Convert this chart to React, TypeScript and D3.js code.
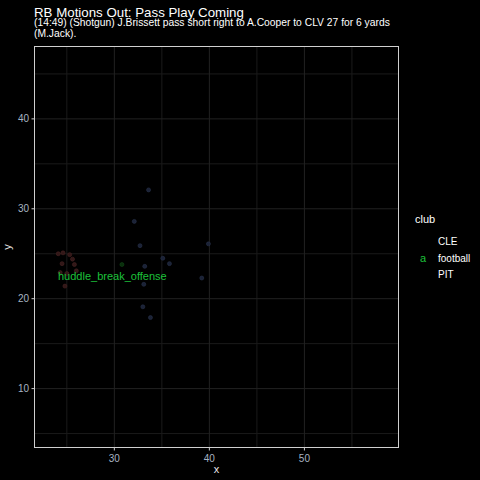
import * as d3 from "d3";

// ── Data ──────────────────────────────────────────────────────
const CLUBS = ["CLE", "football", "PIT"];
const CLE_X = [24.1, 24.6, 25.3, 25.6, 24.5, 25.8, 24.3, 25.0, 26.0, 24.8];
const CLE_Y = [25.0, 25.1, 24.9, 24.4, 23.9, 23.8, 22.9, 22.8, 23.1, 21.4];
const PIT_X = [33.6, 32.1, 32.7, 39.9, 35.1, 35.8, 33.2, 39.2, 33.1, 33.0, 33.8];
const PIT_Y = [32.1, 28.6, 25.9, 26.1, 24.5, 23.9, 23.6, 22.3, 21.6, 19.1, 17.9];
const BALL_X = [30.8];
const BALL_Y = [23.8];
const X_TICKS = [30, 40, 50];
const Y_TICKS = [10, 20, 30, 40];
const X_MINOR = [25, 35, 45, 55];
const Y_MINOR = [5, 15, 25, 35, 45];

const W = 480;
const H = 480;
const M = { left: 34.5, right: 398.5, top: 46.5, bottom: 447.5 };
const FONT = "Liberation Sans, Arial, sans-serif";
const TICK_COL = "#a7b4c2";

const COLORS: Record<string, string> = {
  CLE: "#321818",
  football: "#0a2e0d",
  PIT: "#1b2236",
};
const STROKES: Record<string, string> = {
  CLE: "#4a2424",
  football: "#104a16",
  PIT: "#28324c",
};

export default function App() {
  const x = d3.scaleLinear().domain([21.6, 59.9]).range([M.left, M.right]);
  const y = d3.scaleLinear().domain([3.45, 48.05]).range([M.bottom, M.top]);

  const series = [
    { club: "CLE", xs: CLE_X, ys: CLE_Y },
    { club: "PIT", xs: PIT_X, ys: PIT_Y },
    { club: "football", xs: BALL_X, ys: BALL_Y },
  ];

  return (
    <svg
      width={W}
      height={H}
      style={{ position: "absolute", left: 0, top: 0, background: "#000" }}
      fontFamily={FONT}
    >
      <rect width={W} height={H} fill="#000" />

      {/* grid */}
      {X_MINOR.map((t) => (
        <line key={"xm" + t} x1={x(t)} x2={x(t)} y1={M.top} y2={M.bottom} stroke="#1a1a1a" />
      ))}
      {Y_MINOR.map((t) => (
        <line key={"ym" + t} y1={y(t)} y2={y(t)} x1={M.left} x2={M.right} stroke="#1a1a1a" />
      ))}
      {X_TICKS.map((t) => (
        <line key={"xM" + t} x1={x(t)} x2={x(t)} y1={M.top} y2={M.bottom} stroke="#222" />
      ))}
      {Y_TICKS.map((t) => (
        <line key={"yM" + t} y1={y(t)} y2={y(t)} x1={M.left} x2={M.right} stroke="#222" />
      ))}

      {/* points */}
      {series.map((s) =>
        s.xs.map((v, i) => (
          <circle
            key={s.club + i}
            cx={x(v)}
            cy={y(s.ys[i])}
            r={2}
            fill={COLORS[s.club]}
            stroke={STROKES[s.club]}
            strokeWidth={0.6}
          />
        ))
      )}

      {/* label */}
      <text x={58} y={280} fontSize={11} fill="#1cc13a">
        huddle_break_offense
      </text>

      {/* panel border */}
      <rect
        x={M.left}
        y={M.top}
        width={M.right - M.left}
        height={M.bottom - M.top}
        fill="none"
        stroke="#d0d0d0"
        strokeWidth={1}
      />

      {/* axes ticks */}
      {X_TICKS.map((t) => (
        <g key={"xt" + t}>
          <line x1={x(t)} x2={x(t)} y1={M.bottom} y2={M.bottom + 3} stroke="#cccccc" />
          <text x={x(t)} y={462} fontSize={10} fill={TICK_COL} textAnchor="middle">
            {t}
          </text>
        </g>
      ))}
      {Y_TICKS.map((t) => (
        <g key={"yt" + t}>
          <line x1={M.left - 3} x2={M.left} y1={y(t)} y2={y(t)} stroke="#cccccc" />
          <text x={29} y={y(t) + 3.5} fontSize={10} fill={TICK_COL} textAnchor="end">
            {t}
          </text>
        </g>
      ))}

      {/* axis titles */}
      <text x={(M.left + M.right) / 2} y={473} fontSize={11} fill="#e8e8e8" textAnchor="middle">
        x
      </text>
      <text
        transform={`translate(11,${(M.top + M.bottom) / 2}) rotate(-90)`}
        fontSize={11}
        fill="#e8e8e8"
        textAnchor="middle"
      >
        y
      </text>

      {/* title */}
      <text x={34} y={17} fontSize={13.3} fill="#ffffff">
        RB Motions Out: Pass Play Coming
      </text>
      <text x={34} y={26} fontSize={10.3} fill="#ffffff">
        (14:49) (Shotgun) J.Brissett pass short right to A.Cooper to CLV 27 for 6 yards
      </text>
      <text x={34} y={37} fontSize={10.3} fill="#ffffff">
        (M.Jack).
      </text>

      {/* legend */}
      <text x={415} y={223} fontSize={11} fill="#ffffff">
        club
      </text>
      {CLUBS.map((c, i) => (
        <g key={c}>
          {c === "football" && (
            <text x={423} y={262} fontSize={11} fill="#1cc13a" textAnchor="middle">
              a
            </text>
          )}
          <text x={438} y={245 + i * 16.5} fontSize={10} fill="#ffffff">
            {c}
          </text>
        </g>
      ))}
    </svg>
  );
}
